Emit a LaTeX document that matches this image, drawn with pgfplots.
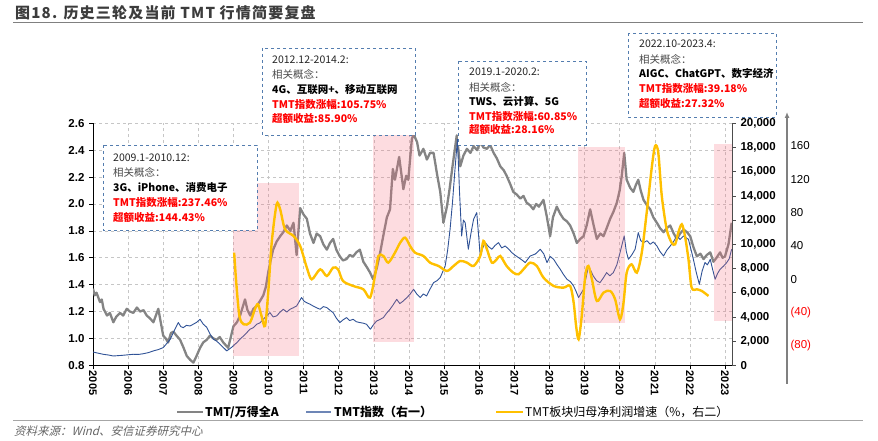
\documentclass[border=0pt]{standalone}
\usepackage{pgfplots}
\pgfplotsset{compat=1.18}
\usepackage{fontspec}
\setmainfont{Liberation Sans}
\newfontfamily\cjk{Noto Sans CJK SC}
\newfontfamily\cjktitle{Noto Sans CJK SC}[LetterSpace=8]
\newfontfamily\cjkit{Noto Sans CJK SC}[FakeSlant=0.25]
\usetikzlibrary{arrows.meta}
\definecolor{grayline}{RGB}{132,132,132}
\definecolor{blueline}{RGB}{47,82,150}
\definecolor{yellowline}{RGB}{255,192,0}
\definecolor{pinkfill}{RGB}{245,110,125}
\definecolor{boxblue}{RGB}{84,125,175}
\definecolor{titlegray}{RGB}{60,60,60}
\begin{document}
\begin{tikzpicture}[x=1pt,y=1pt]
\path[use as bounding box] (0,0) rectangle (878,441);
% title
\node[anchor=west, text=titlegray, inner sep=0, font=\cjktitle\bfseries\fontsize{15}{18}\selectfont] at (15,428.3) {图18. 历史三轮及当前 TMT 行情简要复盘};
\draw[gray, line width=1.2pt] (13,418.7) -- (863,418.7);
% axis 1: ratio
\begin{axis}[
  at={(93pt,75.7pt)}, anchor=south west,
  scale only axis, width=639pt, height=242pt,
  xmin=2005, xmax=2023.2, ymin=0.8, ymax=2.6,
  axis x line*=bottom, axis y line*=left,
  axis line style={black, line width=0.8pt},
  xtick={2005,2006,...,2023},
  xticklabels={2005,2006,2007,2008,2009,2010,2011,2012,2013,2014,2015,2016,2017,2018,2019,2020,2021,2022,2023},
  ytick={0.8,1,1.2,1.4,1.6,1.8,2,2.2,2.4,2.6},
  yticklabels={0.8,1.0,1.2,1.4,1.6,1.8,2.0,2.2,2.4,2.6},
  tick align=outside, major tick length=4pt,
  tick style={black, line width=0.6pt},
  xticklabel style={font=\bfseries\fontsize{11}{12}\selectfont, rotate=-90, anchor=west, xshift=-2pt},
  yticklabel style={font=\bfseries\fontsize{11.5}{12}\selectfont, xshift=-1pt},
  grid=major, major grid style={dashed, gray!45, line width=0.5pt},
]
\addplot[grayline, line width=2.3pt, line join=round] coordinates {
(2005.00,1.37) (2005.05,1.32) (2005.10,1.34) (2005.20,1.27) (2005.25,1.29) (2005.30,1.22) (2005.40,1.17) (2005.48,1.19) (2005.58,1.12) (2005.66,1.16) (2005.77,1.19) (2005.86,1.17) (2005.96,1.22)
(2006.05,1.20) (2006.15,1.19) (2006.25,1.23) (2006.34,1.20) (2006.44,1.21) (2006.53,1.17) (2006.62,1.15) (2006.72,1.12) (2006.86,1.22) (2006.93,1.12) (2007.00,1.02) (2007.07,1.00) (2007.14,0.97) (2007.22,1.04) (2007.29,1.05)
(2007.38,1.02) (2007.48,0.99) (2007.58,0.93) (2007.67,0.87) (2007.77,0.84) (2007.86,0.82) (2007.95,0.87) (2008.05,0.93) (2008.14,0.97) (2008.24,0.99) (2008.33,1.02) (2008.43,1.00) (2008.52,0.99) (2008.61,1.01) (2008.71,0.97)
(2008.85,0.93) (2009.00,1.09) (2009.10,1.12) (2009.19,1.17) (2009.33,1.29) (2009.40,1.21) (2009.48,1.17) (2009.57,1.22) (2009.66,1.24) (2009.76,1.28) (2009.85,1.32) (2009.92,1.38) (2009.99,1.49)
(2010.06,1.58) (2010.13,1.66) (2010.23,1.72) (2010.33,1.76) (2010.42,1.79) (2010.52,1.84) (2010.62,1.80) (2010.71,1.86) (2010.80,1.62) (2010.90,1.97) (2011.00,1.92) (2011.09,1.89) (2011.18,1.78) (2011.28,1.71)
(2011.37,1.78) (2011.47,1.76) (2011.56,1.70) (2011.66,1.66) (2011.75,1.71) (2011.84,1.74) (2011.93,1.66) (2012.03,1.61) (2012.12,1.58) (2012.22,1.59) (2012.31,1.62) (2012.41,1.61) (2012.50,1.64) (2012.60,1.66) (2012.70,1.57)
(2012.80,1.53) (2012.89,1.49) (2012.98,1.44) (2013.08,1.52) (2013.18,1.64) (2013.28,1.78) (2013.37,1.90) (2013.46,1.96) (2013.54,2.26) (2013.60,2.18) (2013.72,2.35) (2013.84,2.11) (2013.92,2.21) (2013.98,2.18)
(2014.08,2.48) (2014.13,2.52) (2014.23,2.46) (2014.30,2.36) (2014.41,2.41) (2014.51,2.33) (2014.60,2.38) (2014.70,2.38) (2014.80,2.22) (2014.89,2.09) (2014.98,1.86) (2015.08,1.98) (2015.15,2.10) (2015.25,2.30)
(2015.36,2.51) (2015.46,2.28) (2015.55,2.36) (2015.65,2.41) (2015.75,2.38) (2015.84,2.43) (2015.94,2.40) (2016.03,2.46) (2016.12,2.42) (2016.22,2.41) (2016.31,2.44) (2016.41,2.38) (2016.50,2.34) (2016.60,2.28)
(2016.70,2.25) (2016.78,2.21) (2016.88,2.15) (2016.97,2.09) (2017.07,2.07) (2017.17,2.04) (2017.26,2.06) (2017.35,2.01) (2017.45,1.99) (2017.54,1.96) (2017.62,2.00) (2017.70,1.98) (2017.83,2.03) (2017.93,1.90) (2018.02,1.76)
(2018.10,1.90) (2018.21,1.98) (2018.30,1.93) (2018.40,1.89) (2018.50,1.87) (2018.59,1.84) (2018.69,1.78) (2018.78,1.71) (2018.88,1.74) (2018.97,1.76) (2019.06,1.84) (2019.16,1.96) (2019.26,1.84) (2019.35,1.74) (2019.45,1.78) (2019.54,1.76)
(2019.63,1.82) (2019.73,1.89) (2019.82,1.94) (2019.92,2.01) (2020.00,2.10) (2020.06,2.21) (2020.13,2.38) (2020.20,2.18) (2020.30,2.12) (2020.39,2.09) (2020.46,2.14) (2020.53,2.18) (2020.60,2.10) (2020.68,2.03)
(2020.78,1.99) (2020.87,1.96) (2020.96,1.90) (2021.06,1.86) (2021.15,1.82) (2021.25,1.79) (2021.34,1.82) (2021.44,1.84) (2021.54,1.78) (2021.63,1.74) (2021.72,1.78) (2021.82,1.81) (2021.92,1.79) (2022.01,1.76) (2022.10,1.68) (2022.20,1.61)
(2022.30,1.63) (2022.39,1.59) (2022.48,1.62) (2022.58,1.64) (2022.67,1.57) (2022.76,1.60) (2022.86,1.64) (2022.93,1.60) (2023.00,1.61) (2023.10,1.70) (2023.19,1.86)
};
\end{axis}
% axis 2: TMT index
\begin{axis}[
  at={(93pt,75.7pt)}, anchor=south west,
  scale only axis, width=639pt, height=242pt,
  xmin=2005, xmax=2023.2, ymin=0, ymax=20000,
  axis y line*=right, axis x line=none,
  axis line style={black!70, line width=0.8pt},
  scaled y ticks=false,
  ytick={0,2000,4000,6000,8000,10000,12000,14000,16000,18000,20000},
  yticklabels={0,{2,000},{4,000},{6,000},{8,000},{10,000},{12,000},{14,000},{16,000},{18,000},{20,000}},
  tick align=outside, major tick length=4pt, tick style={black!70, line width=0.6pt},
  yticklabel style={font=\bfseries\fontsize{11.5}{12}\selectfont, xshift=1pt},
]
\addplot[blueline, line width=0.9pt, line join=round] coordinates {
(2005.00,1100) (2005.15,1000) (2005.29,910) (2005.44,850) (2005.58,770) (2005.72,800) (2005.86,830) (2006.00,870) (2006.15,910) (2006.30,900) (2006.44,960) (2006.58,1050) (2006.72,1190) (2006.86,1300) (2007.00,1460)
(2007.10,1800) (2007.20,2150) (2007.32,2900) (2007.43,3530) (2007.50,3200) (2007.57,3110) (2007.66,3300) (2007.76,3250) (2007.86,3400) (2007.95,3550) (2008.05,3800) (2008.14,3400) (2008.24,3140) (2008.33,2600) (2008.43,2150)
(2008.52,2000) (2008.62,1740) (2008.72,1450) (2008.81,1190) (2008.95,1490) (2009.10,1880) (2009.20,2200) (2009.29,2430) (2009.38,2700) (2009.47,2980) (2009.56,3100) (2009.66,3390) (2009.75,3500) (2009.85,3800)
(2009.95,4100) (2010.04,4350) (2010.13,4000) (2010.23,4080) (2010.33,4400) (2010.42,4630) (2010.52,4400) (2010.61,4630) (2010.70,4750) (2010.80,4900) (2010.94,5600) (2011.01,5300) (2011.08,5180) (2011.18,5050) (2011.27,4900)
(2011.37,4750) (2011.47,4630) (2011.56,4850) (2011.66,4770) (2011.75,4550) (2011.84,4350) (2011.93,3900) (2012.03,3530) (2012.12,3750) (2012.22,3940) (2012.31,3700) (2012.41,3800) (2012.50,3600) (2012.60,3530) (2012.70,3480) (2012.79,3390)
(2012.90,2980) (2013.00,3400) (2013.08,3660) (2013.18,3800) (2013.27,3940) (2013.36,4300) (2013.46,4630) (2013.55,5000) (2013.65,5450) (2013.74,5100) (2013.84,5320) (2013.94,5600) (2014.03,5870) (2014.13,6280)
(2014.22,5900) (2014.32,5600) (2014.41,5900) (2014.50,5730) (2014.60,6300) (2014.70,6830) (2014.80,7000) (2014.89,7250) (2015.03,8200) (2015.10,9500) (2015.17,11240) (2015.24,13500) (2015.31,16200) (2015.38,18680)
(2015.44,14270) (2015.50,10690) (2015.55,12000) (2015.60,11790) (2015.69,9590) (2015.77,11000) (2015.84,12070) (2015.93,12620) (2016.03,9030) (2016.10,9700) (2016.17,10140) (2016.27,9800) (2016.36,9590)
(2016.45,9900) (2016.55,10140) (2016.64,9700) (2016.74,9860) (2016.84,9600) (2016.93,9310) (2017.02,9100) (2017.12,8900) (2017.22,8700) (2017.31,8490) (2017.45,9030) (2017.60,9200) (2017.74,9590)
(2017.84,9200) (2017.93,8490) (2018.02,9000) (2018.12,8760) (2018.22,8300) (2018.31,7930) (2018.40,7500) (2018.50,7110) (2018.60,6900) (2018.69,6550) (2018.76,6100) (2018.83,5600) (2018.97,6280) (2019.04,7200) (2019.11,8200)
(2019.18,7800) (2019.25,7380) (2019.34,7000) (2019.44,6830) (2019.53,7200) (2019.63,7660) (2019.72,7400) (2019.82,7660) (2019.92,8300) (2020.01,9310) (2020.13,10690) (2020.19,9400) (2020.25,8760) (2020.34,9100) (2020.44,9590)
(2020.53,10970) (2020.60,10300) (2020.68,10140) (2020.78,10300) (2020.87,10000) (2020.96,10200) (2021.06,9860) (2021.15,9400) (2021.25,9030) (2021.34,9500) (2021.44,9860) (2021.53,10200) (2021.63,10690) (2021.72,10400) (2021.82,10690)
(2021.96,10410) (2022.03,9600) (2022.10,8760) (2022.18,7700) (2022.27,6690) (2022.35,7800) (2022.43,8490) (2022.50,8300) (2022.58,8760) (2022.65,7900) (2022.72,7110) (2022.79,7600) (2022.86,7930) (2022.96,8200) (2023.05,8490)
(2023.12,8800) (2023.19,9590)
};
% shaded periods
\addplot[draw=none, fill=pinkfill, fill opacity=0.24] coordinates {(2008.99,744) (2010.87,744) (2010.87,15040) (2008.99,15040)} -- cycle;
\addplot[draw=none, fill=pinkfill, fill opacity=0.24] coordinates {(2012.97,1926) (2014.15,1926) (2014.15,19032) (2012.97,19032)} -- cycle;
\addplot[draw=none, fill=pinkfill, fill opacity=0.24] coordinates {(2018.82,3471) (2020.15,3471) (2020.15,18016) (2018.82,18016)} -- cycle;
\addplot[draw=none, fill=pinkfill, fill opacity=0.24] coordinates {(2022.70,3661) (2023.2,3661) (2023.2,18264) (2022.70,18264)} -- cycle;
\end{axis}
% axis 3: profit growth
\begin{axis}[
  at={(93pt,75.7pt)}, anchor=south west,
  scale only axis, width=639pt, height=242pt,
  xmin=2005, xmax=2023.2, ymin=-103.2, ymax=187.2,
  axis y line*=right, axis x line=none,
  axis line style={draw=none},
  ytick={-80,-40,0,40,80,120,160},
  yticklabels={\textcolor{red}{(80)},\textcolor{red}{(40)},0,40,80,120,160},
  major tick length=0pt, ytick style={draw=none},
  yticklabel style={font=\fontsize{11.5}{12}\selectfont, xshift=55pt},
]
\addplot[yellowline, line width=2.4pt, smooth, tension=0.5] coordinates {
(2009.02,32) (2009.08,-4) (2009.17,-44) (2009.29,-54) (2009.47,-52) (2009.61,-36) (2009.70,-30) (2009.80,-44)
(2009.90,-56) (2009.99,-16) (2010.09,44) (2010.23,90) (2010.33,84) (2010.47,60) (2010.71,52) (2010.90,40)
(2011.09,14) (2011.23,0) (2011.47,12) (2011.66,4) (2011.84,14) (2011.98,12) (2012.12,-2) (2012.41,-8)
(2012.70,-12) (2012.89,-22) (2013.03,4) (2013.13,28) (2013.27,28) (2013.41,20) (2013.60,32) (2013.75,44)
(2013.89,50) (2014.03,40) (2014.17,32) (2014.41,28) (2014.60,20) (2014.84,16) (2015.08,10) (2015.27,16)
(2015.46,22) (2015.65,20) (2015.84,16) (2016.03,28) (2016.12,46) (2016.22,36) (2016.36,20) (2016.50,24)
(2016.60,28) (2016.78,16) (2016.97,8) (2017.12,6) (2017.26,12) (2017.45,20) (2017.64,16) (2017.83,2)
(2018.12,-8) (2018.40,-10) (2018.59,-8) (2018.69,-28) (2018.76,-56) (2018.83,-72) (2018.92,-44) (2019.02,4)
(2019.11,16) (2019.21,0) (2019.35,-26) (2019.54,-16) (2019.73,-14) (2019.87,-24) (2020.01,-48) (2020.11,-28)
(2020.20,8) (2020.34,18) (2020.49,8) (2020.63,32) (2020.77,80) (2020.92,136) (2021.01,160) (2021.10,152)
(2021.20,100) (2021.34,60) (2021.48,44) (2021.58,42) (2021.67,56) (2021.77,66) (2021.86,52) (2021.96,24)
(2022.05,-10) (2022.20,-12) (2022.34,-14) (2022.53,-20)
};
\end{axis}
% third axis line
\draw[-{Latex[length=6pt,width=5pt]}, gray, line width=1.3pt] (787,57) -- (787,329);
% annotation boxes
\tikzset{bl/.style={anchor=base west, inner sep=0, font=\cjk\fontsize{10.5}{12}\selectfont}}
\draw[boxblue, dashed, line width=0.7pt, fill=white] (103,296) rectangle (257,211);
\node[bl, text=black!85] at (113,279.5) {2009.1-2010.12:};
\node[bl, text=black!70] at (113,264.7) {相关概念：};
\node[bl] at (113,249.9) {\bfseries 3G、iPhone、消费电子};
\node[bl, text=red] at (113,234.7) {\bfseries TMT指数涨幅:237.46\%};
\node[bl, text=red] at (113,219.7) {\bfseries 超额收益:144.43\%};
\draw[boxblue, dashed, line width=0.7pt, fill=white] (262,393) rectangle (415,306);
\node[bl, text=black!85] at (272,377.2) {2012.12-2014.2:};
\node[bl, text=black!70] at (272,362.2) {相关概念：};
\node[bl] at (272,347.9) {\bfseries 4G、互联网+、移动互联网};
\node[bl, text=red] at (272,332.9) {\bfseries TMT指数涨幅:105.75\%};
\node[bl, text=red] at (272,318.9) {\bfseries 超额收益:85.90\%};
\draw[boxblue, dashed, line width=0.7pt, fill=white] (458,380) rectangle (586,296);
\node[bl, text=black!85] at (469,365.5) {2019.1-2020.2:};
\node[bl, text=black!70] at (469,349.9) {相关概念：};
\node[bl] at (469,335.5) {\bfseries TWS、云计算、5G};
\node[bl, text=red] at (469,320.5) {\bfseries TMT指数涨幅:60.85\%};
\node[bl, text=red] at (469,307.2) {\bfseries 超额收益:28.16\%};
\draw[boxblue, dashed, line width=0.7pt, fill=white] (628,408) rectangle (776,324);
\node[bl, text=black!85] at (639,393.9) {2022.10-2023.4:};
\node[bl, text=black!70] at (639,377.9) {相关概念：};
\node[bl] at (639,363.9) {\bfseries AIGC、ChatGPT、数字经济};
\node[bl, text=red] at (639,348.9) {\bfseries TMT指数涨幅:39.18\%};
\node[bl, text=red] at (639,333.9) {\bfseries 超额收益:27.32\%};
% legend
\draw[grayline, line width=2pt] (177,29) -- (203,29);
\node[anchor=west, inner sep=0, font=\cjk\bfseries\fontsize{12}{14}\selectfont] at (205,29) {TMT/万得全A};
\draw[blueline!70, line width=1.5pt] (306,29) -- (331,29);
\node[anchor=west, inner sep=0, font=\cjk\bfseries\fontsize{12}{14}\selectfont] at (334,29) {TMT指数（右一）};
\draw[yellowline, line width=2.5pt] (496,29) -- (523,29);
\node[anchor=west, inner sep=0, font=\cjk\fontsize{12}{14}\selectfont] at (525,29) {TMT板块归母净利润增速（\%，右二）};
% footer
\draw[gray!70, line width=1pt] (13,20) -- (863,20);
\node[anchor=west, inner sep=0, text=black!60, font=\cjkit\fontsize{11.5}{13}\selectfont] at (14,9.5) {资料来源：Wind、安信证券研究中心};
\end{tikzpicture}
\end{document}
